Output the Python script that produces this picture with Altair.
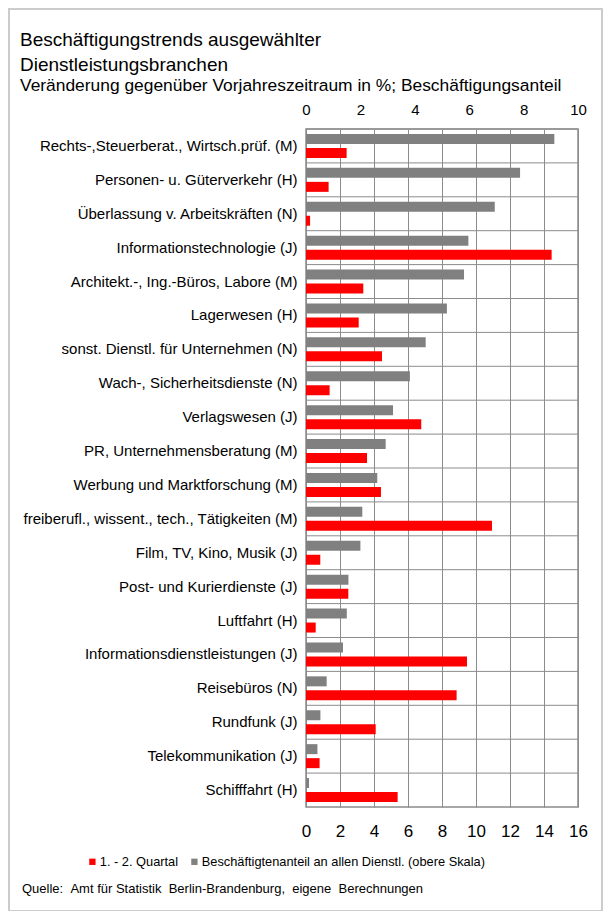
import altair as alt
import pandas as pd

categories = [
    "Rechts-,Steuerberat., Wirtsch.prüf. (M)",
    "Personen- u. Güterverkehr (H)",
    "Überlassung v. Arbeitskräften (N)",
    "Informationstechnologie (J)",
    "Architekt.-, Ing.-Büros, Labore (M)",
    "Lagerwesen (H)",
    "sonst. Dienstl. für Unternehmen (N)",
    "Wach-, Sicherheitsdienste (N)",
    "Verlagswesen (J)",
    "PR, Unternehmensberatung (M)",
    "Werbung und Marktforschung (M)",
    "freiberufl., wissent., tech., Tätigkeiten (M)",
    "Film, TV, Kino, Musik (J)",
    "Post- und Kurierdienste (J)",
    "Luftfahrt (H)",
    "Informationsdienstleistungen (J)",
    "Reisebüros (N)",
    "Rundfunk (J)",
    "Telekommunikation (J)",
    "Schifffahrt (H)",
]

# Beschäftigtenanteil an allen Dienstleistungen (obere Skala, 0-10)
share = [9.13, 7.87, 6.94, 5.97, 5.81, 5.18, 4.40, 3.82, 3.20, 2.93,
         2.62, 2.07, 2.00, 1.56, 1.50, 1.36, 0.76, 0.53, 0.42, 0.11]

# Veränderung 1. - 2. Quartal gegenüber Vorjahreszeitraum in % (untere Skala, 0-16)
change = [2.39, 1.33, 0.24, 14.45, 3.37, 3.10, 4.47, 1.39, 6.78, 3.59,
          4.41, 10.94, 0.84, 2.49, 0.57, 9.47, 8.86, 4.10, 0.80, 5.39]

top_ticks = [0, 2, 4, 6, 8, 10]
bottom_ticks = [0, 2, 4, 6, 8, 10, 12, 14, 16]

red_label = "1. - 2. Quartal"
gray_label = "Beschäftigtenanteil an allen Dienstl. (obere Skala)"
source_text = "Quelle: \u00a0Amt für Statistik \u00a0Berlin-Brandenburg, \u00a0eigene \u00a0Berechnungen"

df = pd.DataFrame({"Branche": categories, "Anteil": share, "Veraenderung": change})
df_gray = df.assign(Serie=gray_label)
df_red = df.assign(Serie=red_label)

FONT = "Liberation Sans"
GRID = "#8c8c8c"

y_axis = alt.Axis(title=None, domain=False, ticks=False, grid=False,
                  labelFontSize=15, labelPadding=9, labelColor="black",
                  labelFont=FONT, labelLimit=320)
y_scale = alt.Scale(paddingInner=0, paddingOuter=0)

color_scale = alt.Scale(domain=[red_label, gray_label], range=["#ff0000", "#808080"])
legend = alt.Legend(title=None, orient="none", legendX=-220, legendY=726,
                    direction="horizontal", symbolType="square", symbolSize=40,
                    labelFontSize=12.8, labelFont=FONT, labelColor="black",
                    columnPadding=9, labelOffset=1, padding=0, labelLimit=400,
                    symbolStrokeWidth=0)

hgrid = alt.Chart(df).mark_rule(color=GRID, strokeWidth=1).encode(
    y=alt.Y("Branche:N", sort=categories, bandPosition=0, scale=y_scale, axis=y_axis)
)

gray = alt.Chart(df_gray).mark_bar(size=10, yOffset=-7).encode(
    x=alt.X("Anteil:Q", scale=alt.Scale(domain=[0, 10], nice=False),
            axis=alt.Axis(orient="top", values=top_ticks, grid=False, domain=False,
                          ticks=False, labelPadding=12, labelFontSize=15,
                          labelFlush=False,
                          labelFont=FONT, labelColor="black", title=None)),
    y=alt.Y("Branche:N", sort=categories, scale=y_scale, axis=y_axis),
    color=alt.Color("Serie:N", scale=color_scale, legend=legend),
)

red = alt.Chart(df_red).mark_bar(size=10, yOffset=7).encode(
    x=alt.X("Veraenderung:Q", scale=alt.Scale(domain=[0, 16], nice=False),
            axis=alt.Axis(orient="bottom", values=bottom_ticks, grid=True,
                          gridColor=GRID, gridWidth=1, domain=False,
                          labelFlush=False,
                          ticks=False, labelPadding=16, labelFontSize=17,
                          labelFont=FONT, labelColor="black", title=None)),
    y=alt.Y("Branche:N", sort=categories, scale=y_scale, axis=y_axis),
    color=alt.Color("Serie:N", scale=color_scale, legend=legend),
)

src = alt.Chart(pd.DataFrame({"t": [source_text]})).mark_text(
    align="left", baseline="alphabetic", fontSize=13, font=FONT, color="black"
).encode(x=alt.value(-284), y=alt.value(764), text="t:N")

frame = alt.Chart(pd.DataFrame({"t": [0]})).mark_rect(
    fill=None, stroke="#cccccc", strokeWidth=2
).encode(x=alt.value(-297), x2=alt.value(296), y=alt.value(-120), y2=alt.value(782))

chart = alt.layer(hgrid, gray, red, src, frame).resolve_scale(
    x="independent"
).properties(
    width=272,
    height=678,
    autosize=alt.AutoSizeParams(type="none"),
    padding={"left": 298, "top": 121, "right": 26, "bottom": 104},
    title=alt.TitleParams(
        text=["Beschäftigungstrends ausgewählter", "Dienstleistungsbranchen"],
        subtitle="Veränderung gegenüber Vorjahreszeitraum in %; Beschäftigungsanteil",
        anchor="start", frame="group", dx=-286, offset=-86,
        fontSize=19, fontWeight="normal", lineHeight=25, font=FONT, color="black",
        subtitleFontSize=17.4, subtitleFont=FONT, subtitleColor="black",
        subtitlePadding=2,
    ),
).configure_view(stroke=GRID, strokeWidth=1.5)

chart.save("out.html", embed_options={"renderer": "svg", "actions": False})
